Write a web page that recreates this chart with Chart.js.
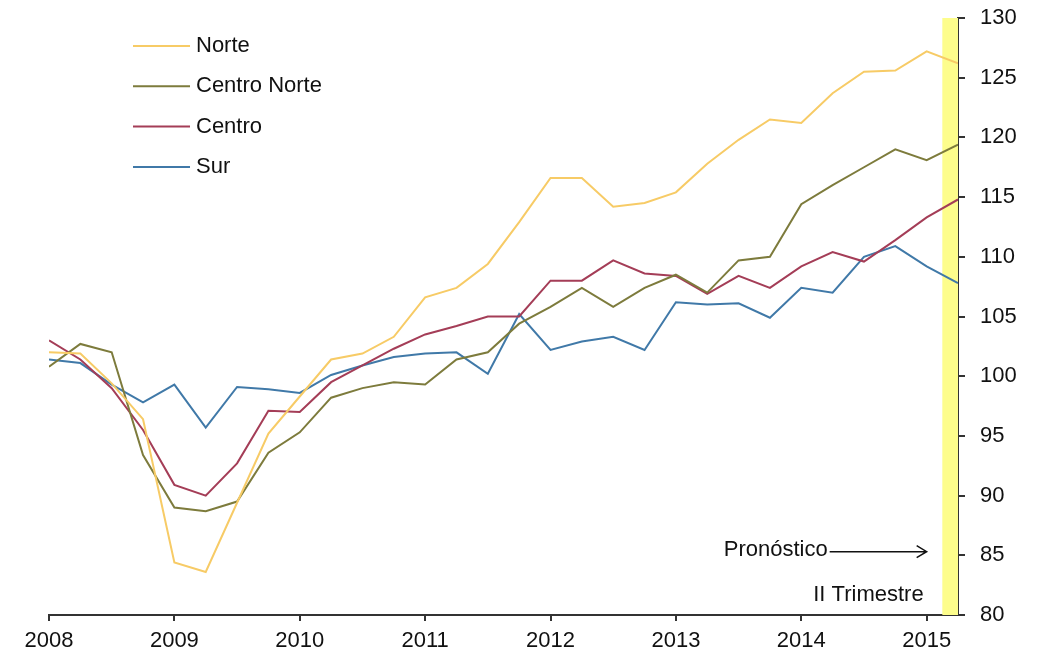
<!DOCTYPE html>
<html>
<head>
<meta charset="utf-8">
<script src="https://cdn.jsdelivr.net/npm/chart.js@4/dist/chart.umd.min.js"></script>
<style>
  html, body { margin: 0; padding: 0; background: #fff; }
  #wrap { width: 1045px; height: 654px; }
</style>
</head>
<body>
<div id="wrap"><canvas id="regionChart"></canvas></div>
<script>
// trimestres 2008-I .. 2015-II
const periodos = [
    '2008-1', '2008-2', '2008-3', '2008-4',
    '2009-1', '2009-2', '2009-3', '2009-4',
    '2010-1', '2010-2', '2010-3', '2010-4',
    '2011-1', '2011-2', '2011-3', '2011-4',
    '2012-1', '2012-2', '2012-3', '2012-4',
    '2013-1', '2013-2', '2013-3', '2013-4',
    '2014-1', '2014-2', '2014-3', '2014-4',
    '2015-1', '2015-2'
];

const anios = [2008, 2009, 2010, 2011, 2012, 2013, 2014, 2015];

const norte = [102.0, 101.9, 99.4, 96.4, 84.4, 83.6, 89.4, 95.2, 98.3, 101.4,
    101.9, 103.3, 106.6, 107.4, 109.4, 112.9, 116.6, 116.6, 114.2, 114.5,
    115.4, 117.8, 119.8, 121.5, 121.2, 123.7, 125.5, 125.6, 127.2, 126.2];

const centroNorte = [100.8, 102.7, 102.0, 93.4, 89.0, 88.7, 89.5, 93.6, 95.3, 98.2,
    99.0, 99.5, 99.3, 101.4, 102.0, 104.4, 105.8, 107.4, 105.8, 107.4,
    108.5, 107.0, 109.7, 110.0, 114.4, 116.0, 117.5, 119.0, 118.1, 119.4];

const centro = [103.0, 101.4, 99.0, 95.5, 90.9, 90.0, 92.7, 97.1, 97.0, 99.5,
    100.9, 102.3, 103.5, 104.2, 105.0, 105.0, 108.0, 108.0, 109.7, 108.6,
    108.4, 106.9, 108.4, 107.4, 109.2, 110.4, 109.6, 111.4, 113.3, 114.8];

const sur = [101.4, 101.1, 99.3, 97.8, 99.3, 95.7, 99.1, 98.9, 98.6, 100.1,
    100.9, 101.6, 101.9, 102.0, 100.2, 105.2, 102.2, 102.9, 103.3, 102.2,
    106.2, 106.0, 106.1, 104.9, 107.4, 107.0, 110.0, 110.9, 109.2, 107.8];

const FONT = "'Liberation Sans', Arial, sans-serif";

// periodo '2008-3' -> 2008.5
const toX = p => {
    const [a, q] = p.split('-');
    return Number(a) + (Number(q) - 1) / 4;
};

const serie = vals => vals.map((v, i) => ({ x: toX(periodos[i]), y: v }));

const ctx = document.getElementById('regionChart');

// franja del pronostico, leyenda y anotaciones
const extras = {
    id: 'extras',
    beforeDatasetsDraw: (chart) => {
        const c = chart.ctx;
        const xs = chart.scales.x;
        const { top, bottom } = chart.chartArea;
        const last = toX(periodos[periodos.length - 1]);
        const x0 = xs.getPixelForValue(last - 0.125);
        const x1 = xs.getPixelForValue(last);
        c.save();
        c.fillStyle = '#fdfd8c';
        c.fillRect(x0, top, x1 - x0, bottom - top);
        c.restore();
    },
    afterDraw: (chart) => {
        const c = chart.ctx;
        const xs = chart.scales.x;
        const ys = chart.scales.y;
        c.save();
        c.font = '22px ' + FONT;
        c.textBaseline = 'middle';
        c.fillStyle = '#111';

        // leyenda
        chart.data.datasets.forEach((ds, i) => {
            const y = 46 + i * 40.3;
            c.strokeStyle = ds.borderColor;
            c.lineWidth = 2;
            c.beginPath();
            c.moveTo(133, y);
            c.lineTo(190, y);
            c.stroke();
            c.textAlign = 'left';
            c.fillText(ds.label, 196, y);
        });

        // Pronostico ->
        const tipX = xs.getPixelForValue(2015);
        const tipY = ys.getPixelForValue(85.3);
        c.textAlign = 'right';
        c.fillText('Pronóstico', tipX - 99, tipY - 2);
        c.strokeStyle = '#111';
        c.lineWidth = 1.5;
        c.beginPath();
        c.moveTo(tipX - 97, tipY);
        c.lineTo(tipX, tipY);
        c.moveTo(tipX - 10, tipY - 6);
        c.lineTo(tipX, tipY);
        c.lineTo(tipX - 10, tipY + 6);
        c.stroke();

        c.fillText('II Trimestre', tipX - 3, ys.getPixelForValue(81.7));
        c.restore();
    }
};

const data = {
    datasets: [
        { label: 'Norte', data: serie(norte), borderColor: '#f7cb66' },
        { label: 'Centro Norte', data: serie(centroNorte), borderColor: '#7d7b3c' },
        { label: 'Centro', data: serie(centro), borderColor: '#a43d57' },
        { label: 'Sur', data: serie(sur), borderColor: '#4079a8' }
    ]
};

const config = {
    type: 'line',
    data: data,
    options: {
        responsive: true,
        maintainAspectRatio: false,
        animation: false,
        borderWidth: 2,
        radius: 0,
        tension: 0,
        layout: {
            padding: { top: 18, left: 49, right: 0, bottom: 0 }
        },
        plugins: {
            legend: { display: false },
            tooltip: { enabled: false }
        },
        scales: {
            x: {
                type: 'linear',
                min: 2008,
                max: toX(periodos[periodos.length - 1]),
                afterBuildTicks: (scale) => {
                    scale.ticks = anios.map(a => ({ value: a }));
                },
                afterFit: (scale) => {
                    scale.height = 39;
                    scale.paddingLeft = 0;
                    scale.paddingRight = 0;
                },
                border: { color: '#333', width: 2 },
                grid: { drawOnChartArea: false, drawTicks: true, tickLength: 6, color: '#333', lineWidth: 2 },
                ticks: {
                    autoSkip: false,
                    maxRotation: 0,
                    padding: 7,
                    color: '#111',
                    font: { family: FONT, size: 22 },
                    callback: v => String(v)
                }
            },
            y: {
                position: 'right',
                min: 80,
                max: 130,
                afterFit: (scale) => {
                    scale.width = 87;
                    scale.paddingTop = 0;
                    scale.paddingBottom = 0;
                },
                border: { color: '#333', width: 2 },
                grid: { drawOnChartArea: false, drawTicks: true, tickLength: 7, color: '#333', lineWidth: 2 },
                ticks: {
                    stepSize: 5,
                    padding: 15,
                    color: '#111',
                    font: { family: FONT, size: 22 }
                }
            }
        }
    },
    plugins: [extras]
};

const regionChart = new Chart(ctx, config);
</script>
</body>
</html>
